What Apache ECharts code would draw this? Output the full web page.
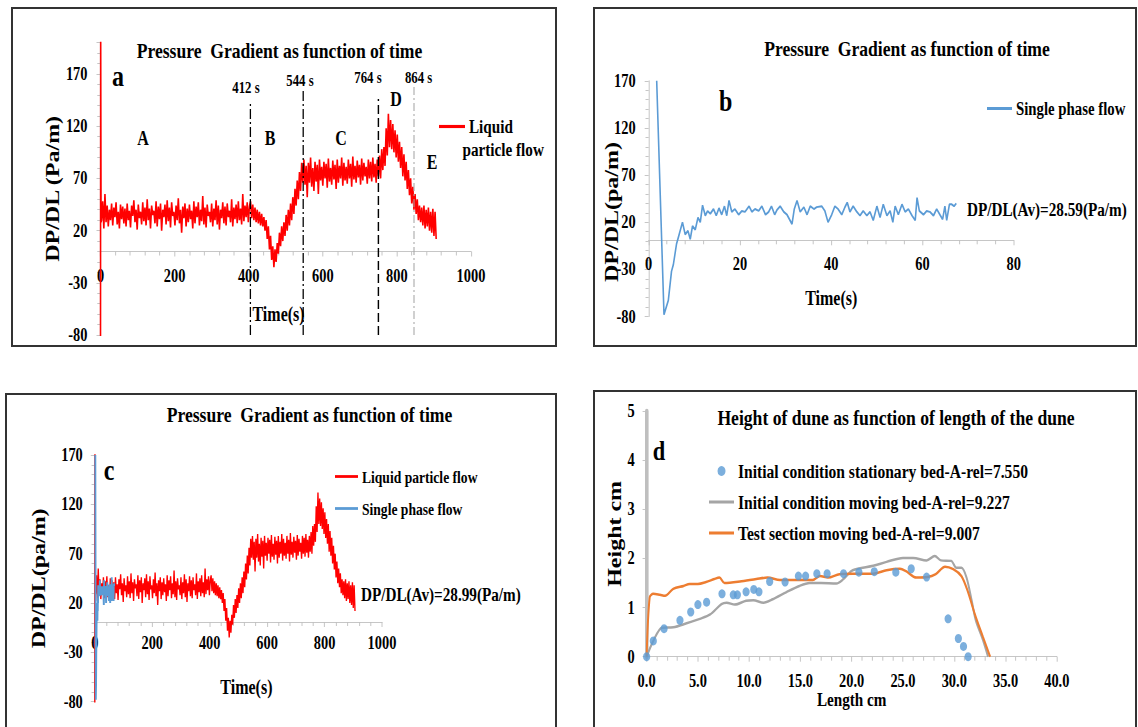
<!DOCTYPE html>
<html>
<head>
<meta charset="utf-8">
<script src="https://cdn.jsdelivr.net/npm/echarts@6.0.0/dist/echarts.min.js"></script>
<style>
  html, body { margin: 0; padding: 0; background: #fff; overflow: hidden; }
  #chart { position: absolute; left: 0; top: 0; width: 1422.5px; height: 727px; transform: scaleX(0.8); transform-origin: 0 0; }
  .box { position: absolute; border: 2px solid #333; box-sizing: border-box; pointer-events: none; }
</style>
</head>
<body>
<div id="chart"></div>
<div class="box" style="left:11px;top:7px;width:546px;height:340px;"></div>
<div class="box" style="left:593px;top:7px;width:544px;height:340px;"></div>
<div class="box" style="left:5px;top:393px;width:552px;height:340px;"></div>
<div class="box" style="left:593px;top:390px;width:544px;height:343px;"></div>
<script>
// ---------------- DATA ----------------
// Panel a / c : liquid particle flow (Pa/m), leading spike then samples every 3 s from t = 3 s
const liquidLeadT = [0, 0.5, 1.5];
const liquidLeadV = [-90, 205, 28];
const liquidFirstT = 3;
const liquidStep = 3;
const liquidA = [ // 3 .. 402 s
  30, 48, 22, 55, 28, 44, 24, 40, 30, 46, 25, 42, 33, 47, 26, 38, 22, 45, 31, 43,
  27, 41, 24, 46, 30, 39, 23, 44, 34, 49, 28, 40, 21, 45, 32, 38, 26, 47, 29, 42,
  25, 50, 30, 41, 22, 44, 35, 39, 27, 48, 24, 43, 31, 46, 20, 40, 33, 45, 26, 49,
  29, 42, 23, 47, 34, 38, 25, 44, 30, 51, 27, 40, 18, 43, 32, 46, 24, 41, 28, 45,
  31, 39, 22, 48, 27, 43, 33, 47, 25, 40, 29, 53, 26, 42, 23, 45, 34, 38, 28, 46,
  24, 41, 30, 49, 26, 44, 21, 40, 32, 47, 27, 43, 25, 46, 33, 39, 28, 50, 24, 42,
  31, 45, 27, 48, 30, 41, 26, 55, 29, 44, 33, 47, 28, 43
];
const liquidB = [ // 405 .. 546 s
  48, 32, 45, 30, 42, 28, 40, 27, 38, 25, 36, 24, 33, 20, 30, 12, 24, 2, 15, -8,
  5, -15, 2, -10, 8, -2, 18, 5, 24, 10, 28, 15, 35, 20, 40, 25, 46, 30, 52, 36,
  60, 44, 68, 50, 76, 58, 85, 66
];
const liquidC = [ // 549 .. 762 s
  88, 64, 82, 52, 85, 66, 90, 62, 80, 58, 86, 67, 83, 55, 88, 68, 81, 63, 86, 70,
  84, 61, 89, 67, 80, 64, 87, 69, 83, 60, 88, 66, 82, 70, 90, 63, 85, 68, 81, 65,
  88, 70, 84, 62, 91, 69, 82, 66, 87, 71, 83, 64, 89, 68, 85, 72, 81, 65, 88, 70,
  86, 67, 90, 71, 84, 66, 88, 72, 92, 70, 98, 78
];
const liquidD = [ // 765 .. 849 s
  100, 82, 118, 92, 132, 100, 126, 98, 122, 95, 116, 90, 112, 86, 105, 80, 100, 72, 93, 68,
  86, 60, 78, 54, 70, 46, 62, 40, 55
];
const liquidE = [ // 852 .. 906 s
  36, 50, 30, 44, 28, 42, 25, 44, 22, 40, 24, 42, 20, 38, 18, 41, 15, 38, 12
];

// Panel b / c : single phase flow
const singleT = [
  1.75, 3.35, 4.3, 5.0, 5.4, 6.1, 6.5, 7.4, 8.0, 8.6,
  9.1, 9.6, 10.2, 10.8, 11.3, 11.8, 12.4, 12.9, 13.5, 14.2,
  14.8, 15.4, 16.0, 16.6, 17.1, 17.6, 18.2, 18.9, 19.7, 20.4,
  21.1, 22.0, 22.6, 23.3, 24.1, 24.8, 25.6, 26.3, 26.9, 27.6,
  28.1, 28.8, 29.6, 30.3, 31.4, 31.9, 32.5, 33.2, 34.0, 34.7,
  35.4, 36.2, 36.8, 37.9, 38.6, 39.3, 40.1, 40.8, 41.5, 42.3,
  43.0, 43.5, 44.1, 44.8, 45.6, 46.3, 47.0, 47.8, 48.5, 49.2,
  50.0, 50.7, 51.4, 52.2, 52.9, 53.5, 54.0, 54.7, 55.5, 56.2,
  56.9, 57.7, 58.4, 58.8, 59.3, 60.2, 60.9, 61.6, 62.4, 63.1,
  63.8, 64.4, 64.9, 65.3, 65.9, 66.4, 66.9, 67.4
];
const singleV = [
  170, -78, -63, -32, -25, -3, 4, 20, 7, 11,
  2, 16, 12, 25, 20, 38, 27, 32, 29, 34,
  27, 35, 28, 37, 27, 43, 31, 34, 28, 32,
  31, 37, 31, 34, 32, 37, 28, 31, 37, 28,
  33, 37, 31, 28, 18, 34, 43, 31, 36, 28,
  37, 34, 36, 37, 32, 20, 28, 37, 34, 28,
  36, 41, 31, 37, 31, 27, 32, 27, 31, 22,
  37, 25, 39, 27, 32, 20, 37, 28, 39, 31,
  34, 27, 22, 46, 32, 28, 32, 31, 27, 34,
  28, 23, 37, 22, 39, 39, 37, 40
];

// Panel a: regime boundary markers (positions as drawn) and their labels
const markTimes = [403, 546, 749, 846];
const markTops = [142, 156, 146, 160];
const markBottom = -80;
const markLabels = ['412 s', '544 s', '764 s', '864 s'];
const regionLabels = ['A', 'B', 'C', 'D', 'E'];

// Panel d: dune height (cm) vs length (cm)
const stationaryX = [0, 0.65, 1.7, 3.25, 4.3, 5.0, 5.85, 7.35, 8.45, 8.85, 9.7, 10.45, 10.95, 12.0, 13.5,
  14.8, 15.5, 16.6, 17.6, 19.2, 20.7, 22.2, 24.3, 25.8, 27.3, 29.4, 30.4, 30.9, 31.35];
const stationaryY = [0, 0.32, 0.57, 0.74, 0.91, 1.06, 1.11, 1.28, 1.26, 1.26, 1.32, 1.37, 1.32, 1.53, 1.52,
  1.64, 1.64, 1.69, 1.69, 1.69, 1.72, 1.73, 1.72, 1.79, 1.62, 0.77, 0.37, 0.21, 0.0];
const movingX = [0, 0.65, 1.5, 2.6, 3.9, 5.2, 6.2, 7.3, 7.8, 8.6, 9.7, 10.4, 11.4, 12.3, 13.6, 14.9, 15.9, 17.0,
  18.5, 19.2, 20.1, 22.1, 23.4, 25.0, 26.0, 27.3, 28.1, 28.7, 29.7, 30.2, 30.7, 31.2, 31.7, 32.1, 32.8, 33.3];
const movingY = [0, 0.32, 0.59, 0.6, 0.68, 0.77, 0.86, 1.07, 1.1, 1.06, 1.14, 1.15, 1.1, 1.17, 1.31, 1.44, 1.5, 1.5,
  1.49, 1.58, 1.76, 1.85, 1.93, 2.01, 2.01, 1.96, 2.05, 1.96, 1.95, 1.81, 1.81, 1.61, 1.14, 0.74, 0.34, 0];
const testX = [0, 0.3, 0.65, 1.3, 1.8, 2.6, 3.6, 4.2, 5.0, 5.8, 6.6, 7.1, 7.6, 9.1, 10.7, 11.8, 13.0, 14.6, 16.2,
  16.9, 17.7, 18.8, 20.1, 22.1, 23.4, 24.7, 25.3, 26.3, 27.4, 28.2, 29.1, 29.9, 30.7, 31.3, 32.0, 32.8, 33.5];
const testY = [0, 1.21, 1.28, 1.26, 1.24, 1.38, 1.44, 1.48, 1.48, 1.52, 1.58, 1.61, 1.5, 1.53, 1.58, 1.61, 1.56, 1.56, 1.56,
  1.64, 1.61, 1.68, 1.69, 1.69, 1.76, 1.79, 1.74, 1.61, 1.62, 1.68, 1.83, 1.78, 1.64, 1.34, 0.87, 0.4, 0];

const nameLiquid = 'Liquid particle flow';
const nameSingle = 'Single phase flow';
const nameStationary = 'Initial condition stationary bed-A-rel=7.550';
const nameMoving = 'Initial condition moving bed-A-rel=9.227';
const nameTest = 'Test section moving bed-A-rel=9.007';

// ---------------- BUILD ----------------
const S = 0.8;              // horizontal compression of the whole figure
const X = p => p / S;       // page px -> internal px (horizontal)
const FONT = 'Liberation Serif';
const GRID_C = '#bfbfbf';

const liquidVals = liquidA.concat(liquidB, liquidC, liquidD, liquidE);
const liquidData = liquidLeadT.map((t, i) => [t, liquidLeadV[i]])
  .concat(liquidVals.map((v, i) => [liquidFirstT + i * liquidStep, v]));
const singleData = singleT.map((t, i) => [t, singleV[i]]);
const stationaryData = stationaryX.map((x, i) => [x, stationaryY[i]]);
const movingData = movingX.map((x, i) => [x, movingY[i]]);
const testData = testX.map((x, i) => [x, testY[i]]);

// grid box given in page pixels; zeroY = page y of value 0 (x axis is drawn there)
const boxes = [
  { l: 100.5, t: 42.7, r: 471, b: 335, zeroY: 251.5 },
  { l: 648.7, t: 80.8, r: 1013.8, b: 316.5, zeroY: 240.3 },
  { l: 94.8, t: 455, r: 382, b: 701.7, zeroY: 622 },
  { l: 646.6, t: 411, r: 1056.8, b: 656.7, zeroY: 656.7 }
];
function grid(bx) {
  return { left: X(bx.l), top: bx.t, width: X(bx.r) - X(bx.l), height: bx.b - bx.t, containLabel: false, outerBoundsMode: 'none' };
}
const lbl = (size, margin, extra) => Object.assign({ fontFamily: FONT, fontWeight: 'bold', fontSize: size, color: '#000', margin: margin, formatter: v => String(v) }, extra || {});
const nameStyle = (size, extra) => Object.assign({ fontFamily: FONT, fontWeight: 'bold', fontSize: size, color: '#000' }, extra || {});

function xAx(gi, min, max, interval, minorSplit, name, nameGap, labelMargin, extra) {
  return Object.assign({
    gridIndex: gi, type: 'value', min, max, interval, position: 'bottom',
    offset: boxes[gi].zeroY - boxes[gi].b,
    axisLine: { show: true, onZero: false, lineStyle: { color: GRID_C, width: 1 } },
    axisTick: { show: true, length: 5, lineStyle: { color: GRID_C } },
    minorTick: { show: true, splitNumber: minorSplit, length: 4, lineStyle: { color: GRID_C } },
    splitLine: { show: false }, minorSplitLine: { show: false },
    axisLabel: lbl(18, labelMargin),
    name, nameLocation: 'middle', nameGap, nameTextStyle: nameStyle(20)
  }, extra || {});
}
function yAx(gi, min, max, interval, minorSplit, name, nameGap, labelMargin, extra) {
  return Object.assign({
    gridIndex: gi, type: 'value', min, max, interval,
    axisLine: { show: true, onZero: false, lineStyle: { color: GRID_C, width: 1 } },
    axisTick: { show: true, length: 5, lineStyle: { color: GRID_C } },
    minorTick: { show: true, splitNumber: minorSplit, length: 4, lineStyle: { color: GRID_C } },
    splitLine: { show: false }, minorSplitLine: { show: false },
    axisLabel: lbl(18, labelMargin, { showMaxLabel: true }),
    name, nameLocation: 'middle', nameRotate: 90, nameGap, nameTextStyle: nameStyle(24)
  }, extra || {});
}

function txt(px, py, text, size, opts) {
  opts = opts || {};
  return {
    type: 'text', x: X(px), y: py, rotation: opts.rotation || 0, silent: true,
    style: {
      text, fontFamily: FONT, fontWeight: opts.weight || 'bold', fontSize: size, fill: '#000',
      align: opts.align || 'center', verticalAlign: 'middle'
    }
  };
}

const markStyles = [
  { color: '#000', width: 1.6, type: [10, 3, 2, 3] },
  { color: '#000', width: 1.6, type: [10, 3, 2, 3] },
  { color: '#000', width: 1.8, type: [9, 4] },
  { color: '#a6a6a6', width: 1.3, type: [8, 3, 2, 3] }
];

const lineIcon = 'path://M0 0H31V3H0Z';

const option = {
  animation: false,
  backgroundColor: '#fff',
  textStyle: { fontFamily: FONT, fontWeight: 'bold', color: '#000' },
  grid: boxes.map(grid),
  xAxis: [
    xAx(0, 0, 1000, 200, 5, 'Time(s)', 53, 15, { nameTextStyle: nameStyle(20, { padding: [0, 18, 0, 0] }) }),
    xAx(1, 0, 80, 20, 5, 'Time(s)', 48, 15),
    xAx(2, 0, 1000, 200, 5, 'Time(s)', 55, 12, { nameTextStyle: nameStyle(20, { padding: [0, 0, 0, 20] }) }),
    xAx(3, 0, 40, 5, 5, 'Length cm', 32, 15, {
      axisLabel: lbl(18, 15, { formatter: v => v.toFixed(1) }),
      nameTextStyle: nameStyle(19)
    })
  ],
  yAxis: [
    yAx(0, -80, 200, 50, 5, 'DP/DL (Pa/m)', 47, X(13), { axisLabel: lbl(18, X(13), { showMaxLabel: false }) }),
    yAx(1, -80, 170, 50, 5, '', 34, X(13)),
    yAx(2, -80, 170, 50, 5, 'DP/DL(pa/m)', 58, X(12)),
    yAx(3, 0, 5, 1, 1, 'Height cm', 26, X(12), {
      axisLine: { show: true, onZero: false, lineStyle: { color: '#bfbfbf', width: 4.5 } },
      minorTick: { show: false }
    })
  ],
  legend: [
    {
      data: [{ name: nameLiquid, icon: lineIcon }], left: X(435), top: 112,
      itemWidth: X(26), itemHeight: 10, formatter: () => 'Liquid',
      textStyle: nameStyle(19), selectedMode: false
    },
    {
      data: [{ name: nameSingle, icon: lineIcon }], left: X(983), top: 94,
      itemWidth: X(25), itemHeight: 10, textStyle: nameStyle(18.5), selectedMode: false
    },
    {
      data: [{ name: nameLiquid, icon: lineIcon }, { name: nameSingle, icon: lineIcon }],
      orient: 'vertical', left: X(331), top: 463, itemGap: 15,
      itemWidth: X(23), itemHeight: 10, textStyle: nameStyle(17), selectedMode: false
    },
    {
      data: [{ name: nameStationary, icon: 'circle' }, { name: nameMoving, icon: lineIcon }, { name: nameTest, icon: lineIcon }],
      orient: 'vertical', left: X(705), top: 456, itemGap: 11,
      itemWidth: X(25), itemHeight: 10, textStyle: nameStyle(19.5), selectedMode: false
    }
  ],
  series: [
    {
      name: nameLiquid, type: 'line', xAxisIndex: 0, yAxisIndex: 0, data: liquidData,
      showSymbol: false, symbol: 'none', color: '#ff0000',
      lineStyle: { color: '#ff0000', width: 2 },
      markLine: {
        silent: true, symbol: ['none', 'none'], label: { show: false }, animation: false,
        data: markTimes.map((t, i) => [
          { coord: [t, markBottom], lineStyle: markStyles[i] },
          { coord: [t, markTops[i]], lineStyle: markStyles[i] }
        ])
      }
    },
    {
      name: nameSingle, type: 'line', xAxisIndex: 1, yAxisIndex: 1, data: singleData,
      showSymbol: false, symbol: 'none', color: '#5b9bd5',
      lineStyle: { color: '#5b9bd5', width: 2 }
    },
    {
      name: nameLiquid, type: 'line', xAxisIndex: 2, yAxisIndex: 2, data: liquidData,
      showSymbol: false, symbol: 'none', color: '#ff0000',
      lineStyle: { color: '#ff0000', width: 1.7 }
    },
    {
      name: nameSingle, type: 'line', xAxisIndex: 2, yAxisIndex: 2, data: singleData,
      showSymbol: false, symbol: 'none', color: '#5b9bd5',
      lineStyle: { color: '#5b9bd5', width: 2.4 }
    },
    {
      name: nameMoving, type: 'line', xAxisIndex: 3, yAxisIndex: 3, data: movingData,
      showSymbol: false, symbol: 'none', smooth: 0.3, color: '#a5a5a5',
      lineStyle: { color: '#a5a5a5', width: 2.5 }
    },
    {
      name: nameTest, type: 'line', xAxisIndex: 3, yAxisIndex: 3, data: testData,
      showSymbol: false, symbol: 'none', smooth: 0.3, color: '#ed7d31',
      lineStyle: { color: '#ed7d31', width: 2.5 }
    },
    {
      name: nameStationary, type: 'scatter', xAxisIndex: 3, yAxisIndex: 3, data: stationaryData,
      symbol: 'circle', symbolSize: 9, color: '#5b9bd5', z: 5,
      itemStyle: { color: '#5b9bd5' }
    }
  ],
  graphic: [
    // titles
    txt(279.5, 50, 'Pressure  Gradient as function of time', 22),
    txt(907, 48, 'Pressure  Gradient as function of time', 22),
    txt(309.5, 414, 'Pressure  Gradient as function of time', 22),
    txt(896, 417, 'Height of dune as function of length of the dune', 22),
    // panel b y axis title
    txt(611.5, 212, 'DP/DL(pa/m)', 24, { rotation: Math.PI / 2 }),
    // panel letters
    txt(118, 76, 'a', 30),
    txt(725.7, 101, 'b', 30),
    txt(109, 470, 'c', 30),
    txt(659, 450, 'd', 28),
    // panel a annotations
    txt(143, 138, regionLabels[0], 20),
    txt(270, 138, regionLabels[1], 20),
    txt(341, 138, regionLabels[2], 20),
    txt(396, 99, regionLabels[3], 20),
    txt(432, 162, regionLabels[4], 20),
    txt(246, 87, markLabels[0], 16),
    txt(300, 80, markLabels[1], 16),
    txt(368, 77, markLabels[2], 16),
    txt(418.6, 77, markLabels[3], 16),
    txt(462.5, 150, 'particle flow', 19, { align: 'left' }),
    // averages
    txt(967, 210, 'DP/DL(Av)=28.59(Pa/m)', 19, { align: 'left' }),
    txt(361, 595, 'DP/DL(Av)=28.99(Pa/m)', 19, { align: 'left' })
  ]
};

const chart = echarts.init(document.getElementById('chart'), null, { renderer: 'svg' });
chart.setOption(option);
</script>
</body>
</html>
